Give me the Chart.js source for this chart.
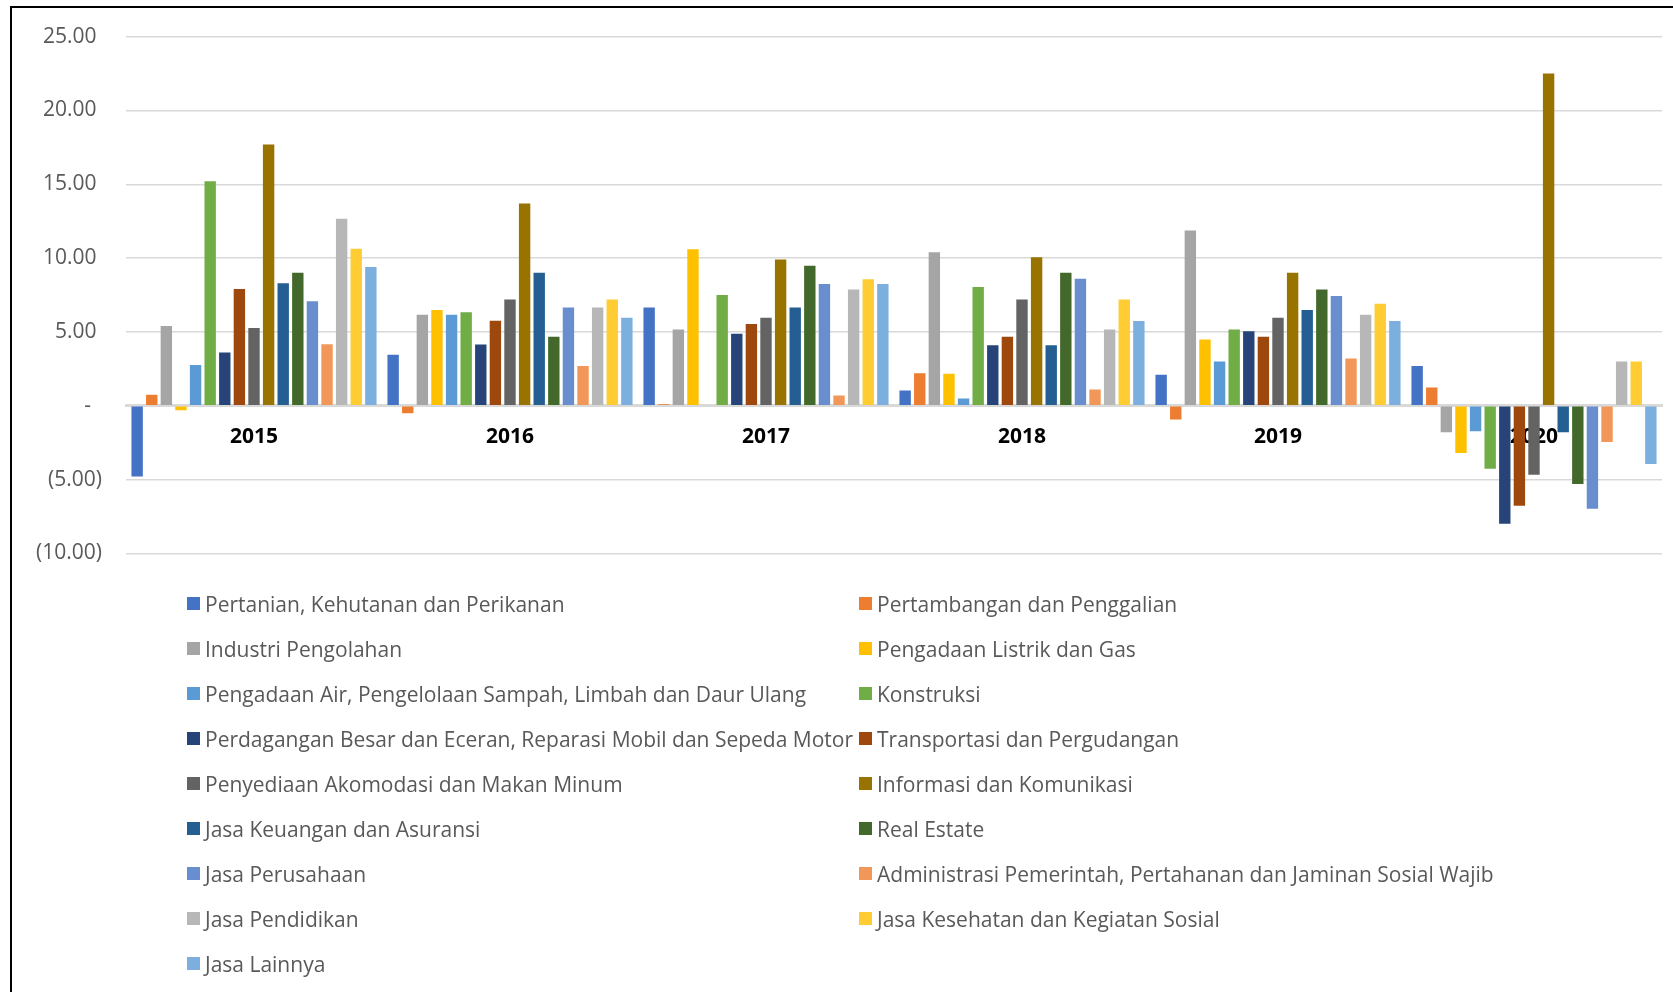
<!DOCTYPE html>
<html>
<head>
<meta charset="utf-8">
<script src="https://cdn.jsdelivr.net/npm/chart.js"></script>
<style>
  body { margin: 0; background: #fff; width: 1673px; height: 992px; overflow: hidden; position: relative; font-family: 'Open Sans', sans-serif; }
  #frame { position: absolute; left: 10px; top: 6px; width: 1700px; height: 1100px; border: 2px solid #000; }
  #wrap { position: absolute; left: 0; top: 0; width: 1673px; height: 590px; }
  #legend { position: absolute; left: 187px; top: 581px; display: grid; grid-template-columns: 672px auto; grid-auto-rows: 45px; align-items: center; font-size: 21px; color: #595959; }
  .item { display: flex; align-items: center; white-space: nowrap; }
  .box { width: 13px; height: 13px; margin-right: 5px; flex: none; }
</style>
</head>
<body>
<div id="frame"></div>
<div id="wrap"><canvas id="grafik"></canvas></div>
<div id="legend"></div>
<script>
// kategori (tahun)
const years = ['2015', '2016', '2017', '2018', '2019', '2020'];

// nama lapangan usaha
const sectors = [
  'Pertanian, Kehutanan dan Perikanan',
  'Pertambangan dan Penggalian',
  'Industri Pengolahan',
  'Pengadaan Listrik dan Gas',
  'Pengadaan Air, Pengelolaan Sampah, Limbah dan Daur Ulang',
  'Konstruksi',
  'Perdagangan Besar dan Eceran, Reparasi Mobil dan Sepeda Motor',
  'Transportasi dan Pergudangan',
  'Penyediaan Akomodasi dan Makan Minum',
  'Informasi dan Komunikasi',
  'Jasa Keuangan dan Asuransi',
  'Real Estate',
  'Jasa Perusahaan',
  'Administrasi Pemerintah, Pertahanan dan Jaminan Sosial Wajib',
  'Jasa Pendidikan',
  'Jasa Kesehatan dan Kegiatan Sosial',
  'Jasa Lainnya'
];

// pertumbuhan per tahun (%)
const pertanian    = [-4.80, 3.45, 6.65, 1.03, 2.10, 2.70];
const pertambangan = [0.74, -0.50, 0.10, 2.20, -0.93, 1.23];
const industri     = [5.40, 6.16, 5.17, 10.40, 11.87, -1.80];
const listrik      = [-0.30, 6.48, 10.60, 2.17, 4.48, -3.20];
const air          = [2.76, 6.16, 0.05, 0.49, 3.00, -1.72];
const konstruksi   = [15.20, 6.33, 7.50, 8.05, 5.17, -4.26];
const perdagangan  = [3.60, 4.14, 4.88, 4.10, 5.05, -8.00];
const transportasi = [7.90, 5.76, 5.54, 4.68, 4.68, -6.77];
const akomodasi    = [5.27, 7.20, 5.96, 7.20, 5.96, -4.68];
const informasi    = [17.70, 13.70, 9.90, 10.05, 9.00, 22.50];
const keuangan     = [8.30, 9.00, 6.65, 4.10, 6.48, -1.80];
const realEstate   = [9.00, 4.68, 9.48, 9.00, 7.88, -5.30];
const perusahaan   = [7.07, 6.65, 8.25, 8.60, 7.44, -6.97];
const administrasi = [4.16, 2.70, 0.69, 1.10, 3.20, -2.46];
const pendidikan   = [12.66, 6.65, 7.88, 5.17, 6.16, 3.00];
const kesehatan    = [10.64, 7.20, 8.57, 7.20, 6.90, 3.00];
const lainnya      = [9.40, 5.96, 8.25, 5.74, 5.74, -3.94];

const seriesValues = [pertanian, pertambangan, industri, listrik, air, konstruksi, perdagangan,
  transportasi, akomodasi, informasi, keuangan, realEstate, perusahaan, administrasi,
  pendidikan, kesehatan, lainnya];

const colors = ['#4472C4', '#ED7D31', '#A5A5A5', '#FFC000', '#5B9BD5', '#70AD47', '#264478',
  '#9E480E', '#636363', '#997300', '#255E91', '#43682B', '#698ED0', '#F1975A',
  '#B7B7B7', '#FFCD33', '#7CAFDD'];

// yTicks
const yMin = -10, yMax = 25, yStep = 5;

function formatTick(v) {
  if (v === 0) return '-  ';
  if (v < 0) return '(' + Math.abs(v).toFixed(2) + ')';
  return v.toFixed(2) + ' ';
}

let ctx = document.getElementById('grafik').getContext('2d');
let chart = new Chart(ctx, {
  type: 'bar',
  data: {
    labels: years,
    datasets: sectors.map((name, i) => ({
      label: name,
      data: seriesValues[i],
      backgroundColor: colors[i],
      borderWidth: 0,
      categoryPercentage: 0.97,
      barPercentage: 0.78
    }))
  },
  options: {
    responsive: true,
    maintainAspectRatio: false,
    animation: false,
    layout: { padding: { left: 0, right: 11, top: 36, bottom: 19 } },
    plugins: {
      legend: { display: false },
      tooltip: { enabled: false }
    },
    scales: {
      x: {
        position: { y: 0 },
        grid: { display: false, drawTicks: false },
        border: { display: true, color: '#d9d9d9', width: 3 },
        ticks: {
          padding: 19,
          color: '#000',
          font: { family: 'Open Sans', size: 21, weight: 'bold' }
        }
      },
      y: {
        min: yMin,
        max: yMax,
        afterFit: scale => { scale.width = 126; },
        grid: { color: '#d9d9d9', lineWidth: 1.5, drawTicks: false },
        border: { display: false },
        ticks: {
          stepSize: yStep,
          padding: 24,
          color: '#595959',
          font: { family: 'Open Sans', size: 21 },
          callback: formatTick
        }
      }
    }
  }
});

// legenda dua kolom
const legend = document.getElementById('legend');
chart.data.datasets.forEach(ds => {
  const item = document.createElement('div');
  item.className = 'item';
  const box = document.createElement('span');
  box.className = 'box';
  box.style.background = ds.backgroundColor;
  const txt = document.createElement('span');
  txt.textContent = ds.label;
  item.appendChild(box);
  item.appendChild(txt);
  legend.appendChild(item);
});
</script>
</body>
</html>
